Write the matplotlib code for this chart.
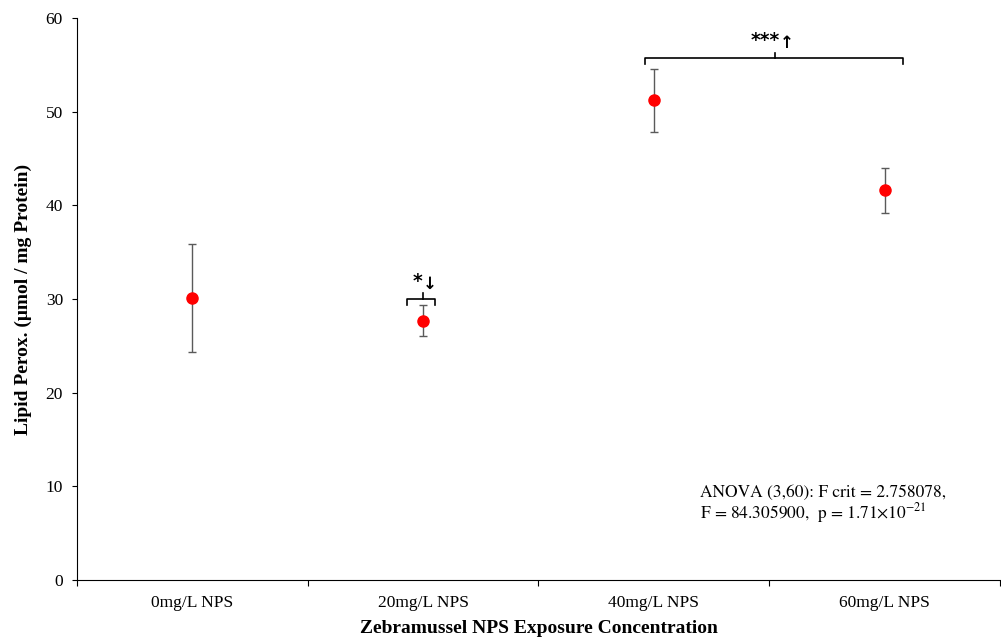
import matplotlib
matplotlib.use("Agg")
import matplotlib.pyplot as plt

categories = ["0mg/L NPS", "20mg/L NPS", "40mg/L NPS", "60mg/L NPS"]
means = [30.1, 27.7, 51.2, 41.6]
errors = [5.75, 1.7, 3.4, 2.4]
y_ticks = [0, 10, 20, 30, 40, 50, 60]

plt.rcParams['font.family'] = ['Liberation Serif', 'DejaVu Serif']
plt.rcParams['mathtext.fontset'] = 'stix'

fig = plt.figure(figsize=(10.01, 6.39), dpi=100)
ax = fig.add_axes([0.0769, 0.0923, 0.922, 0.8795])

x = list(range(len(categories)))
ax.errorbar(x, means, yerr=errors, fmt='o', color='#ff0000', markersize=8,
            ecolor='#5a5a5a', elinewidth=1.0, capsize=3, capthick=1.0, zorder=3)

ax.set_xlim(-0.5, 3.5)
ax.set_ylim(0, 60)
ax.set_yticks(y_ticks)
ax.set_yticklabels([str(v) for v in y_ticks], fontsize=12.5)
ax.set_xticks([i + 0.5 for i in range(-1, 4)])
ax.set_xticklabels([])
ax.set_xticks(x, minor=True)
ax.set_xticklabels(categories, minor=True, fontsize=12.5)
ax.tick_params(axis='x', which='minor', length=0, pad=11)
ax.tick_params(axis='x', which='major', length=4, direction='out')
ax.tick_params(axis='y', length=3.6, direction='out', pad=6.5)
for s in ['top', 'right']:
    ax.spines[s].set_visible(False)

ax.set_ylabel("Lipid Perox. (μmol / mg Protein)", fontsize=14, fontweight='bold', labelpad=10)
ax.set_xlabel("Zebramussel NPS Exposure Concentration", fontsize=14, fontweight='bold', labelpad=6)

# brackets
def bracket(x0, x1, xm, y, h):
    ax.plot([x0, x0, x1, x1], [y - h, y, y, y - h], color='black', lw=1.2, zorder=2)
    ax.plot([xm, xm], [y, y + h], color='black', lw=1.2, zorder=2)

bracket(0.93, 1.05, 1.0, 30.0, 0.6)
ax.text(0.998, 30.9, "*", ha='right', va='bottom', fontsize=13.5, fontweight='bold',
        family=['DejaVu Sans'])
ax.text(1.0, 30.7, "↓", ha='left', va='bottom', fontsize=12, fontweight='bold',
        family=['DejaVu Sans'])
bracket(1.96, 3.08, 2.525, 55.7, 0.6)
ax.text(2.545, 56.6, "***", ha='right', va='bottom', fontsize=13.5, fontweight='bold',
        family=['DejaVu Sans'])
ax.text(2.548, 56.4, "↑", ha='left', va='bottom', fontsize=12, fontweight='bold',
        family=['DejaVu Sans'])

ax.text(2.2, 8.86, "ANOVA (3,60): F crit = 2.758078,", fontsize=12.5, ha='left', va='baseline',
        family=['STIXGeneral'])
ax.text(2.2, 6.6, "F = 84.305900,  p = 1.71×10$^{-21}$", fontsize=12.5, ha='left', va='baseline',
        family=['STIXGeneral'])

fig.savefig("out.png", dpi=100)
